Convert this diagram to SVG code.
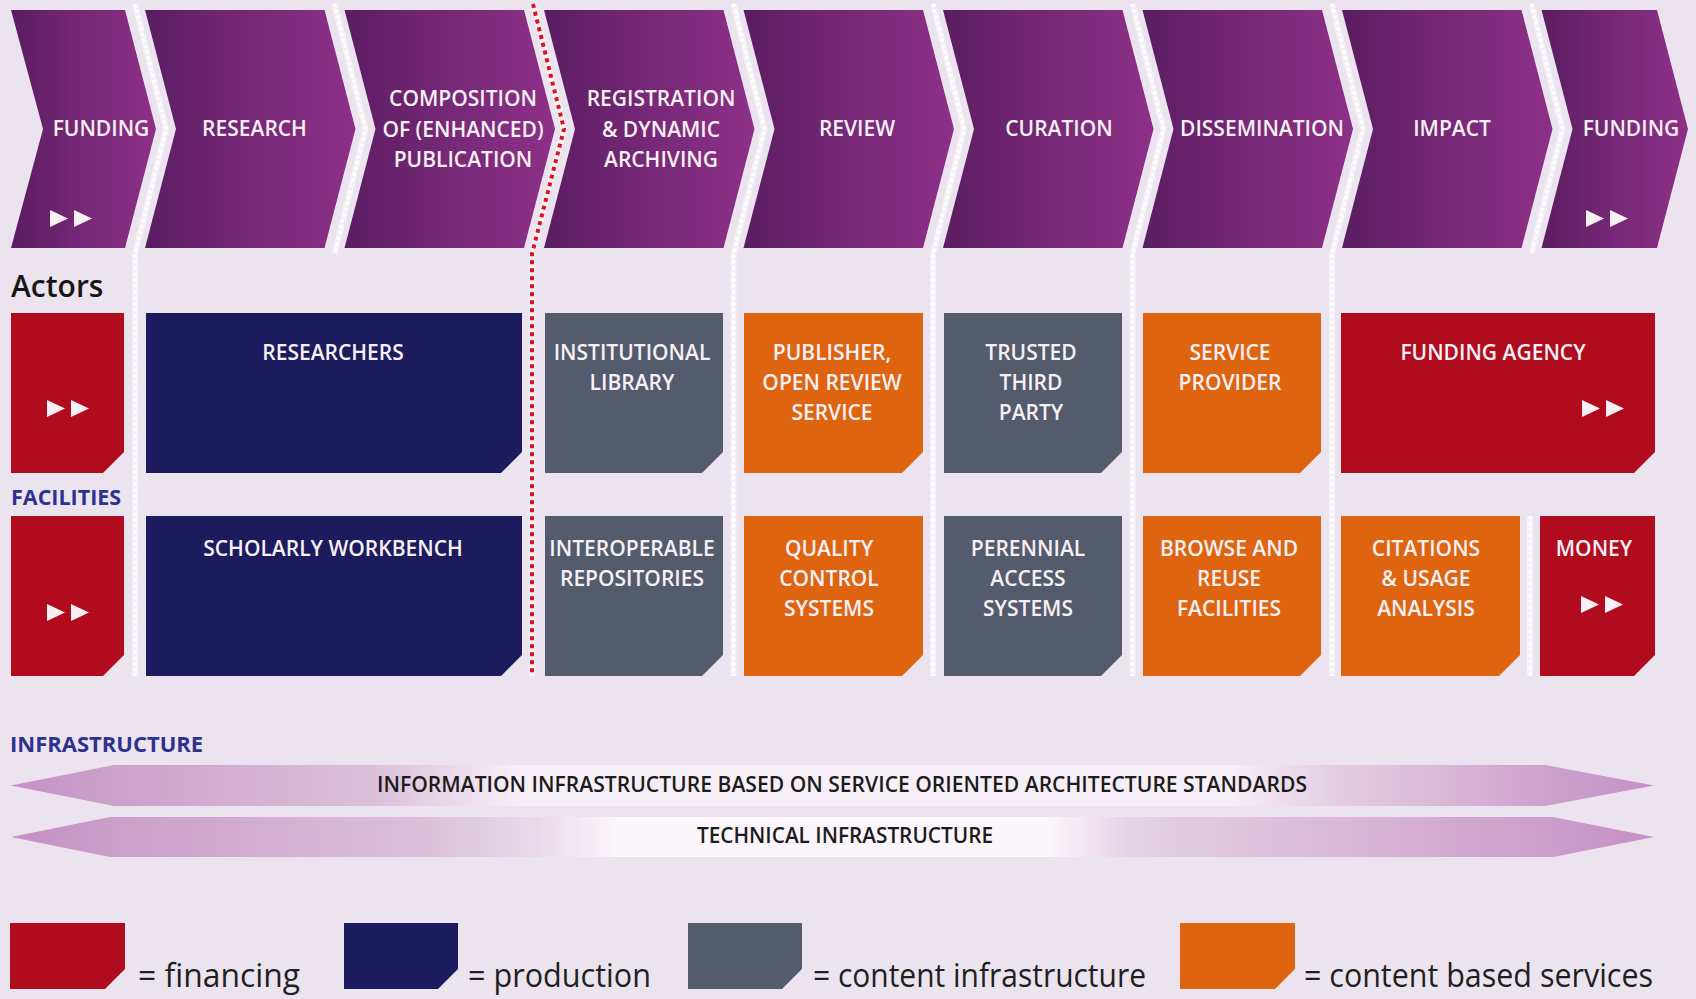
<svg xmlns="http://www.w3.org/2000/svg" xmlns:xlink="http://www.w3.org/1999/xlink" width="1696" height="999" viewBox="0 0 1696 999">
<defs>
<linearGradient id="gChev" x1="0" y1="0" x2="1" y2="0">
<stop offset="0" stop-color="#5a1d62"/>
<stop offset="0.5" stop-color="#772877"/>
<stop offset="1" stop-color="#8d3087"/>
</linearGradient>
<linearGradient id="gBand1" x1="0" y1="0" x2="1" y2="0">
<stop offset="0" stop-color="#c692c4"/>
<stop offset="0.07" stop-color="#cca2cb"/>
<stop offset="0.22" stop-color="#dbbfda"/>
<stop offset="0.31" stop-color="#f7eff7"/>
<stop offset="0.74" stop-color="#f7eff7"/>
<stop offset="0.8" stop-color="#e6d0e5"/>
<stop offset="0.94" stop-color="#cc9fcb"/>
<stop offset="1" stop-color="#c692c4"/>
</linearGradient>
<linearGradient id="gBand2" x1="0" y1="0" x2="1" y2="0">
<stop offset="0" stop-color="#c690c4"/>
<stop offset="0.07" stop-color="#cba0ca"/>
<stop offset="0.25" stop-color="#dbbfdb"/>
<stop offset="0.32" stop-color="#e9dae9"/>
<stop offset="0.37" stop-color="#fbf6fb"/>
<stop offset="0.63" stop-color="#fbf6fb"/>
<stop offset="0.68" stop-color="#e6d2e6"/>
<stop offset="0.9" stop-color="#cfa5ce"/>
<stop offset="1" stop-color="#c690c4"/>
</linearGradient>
<path id="ff" d="M0,0 L18,8.5 L0,17 Z M24,0 L42,8.5 L24,17 Z" fill="#f7f0f5"/>
<style>
.chev{fill:url(#gChev);}
.t{font-family:"Open Sans","Liberation Sans",sans-serif;font-weight:600;font-size:21px;fill:#f6eff4;text-anchor:middle;}
.red{fill:#b00c1d;}
.navy{fill:#1b1b5d;}
.gray{fill:#535b6d;}
.orange{fill:#df640f;}
.sepbg{fill:none;stroke:#f5f1f6;stroke-width:6;}
.sepdot{fill:none;stroke:#ffffff;stroke-width:3;stroke-dasharray:3 3;}
.reddot{fill:none;stroke:#d8141e;stroke-width:4;stroke-dasharray:4 4;}
.lbl{font-family:"Open Sans","Liberation Sans",sans-serif;font-weight:700;font-size:21.5px;fill:#2d3190;}
.band{font-family:"Open Sans","Liberation Sans",sans-serif;font-weight:600;font-size:21px;fill:#1c1c1c;}
.leg{font-family:"Open Sans","Liberation Sans",sans-serif;font-weight:400;font-size:33px;fill:#1f1f1f;}
</style>
</defs>
<rect x="0" y="0" width="1696" height="999" fill="#ebe4ee"/>

<g id="connectors">
<path class="sepbg" d="M135,4 L166,129 L135,254 V676"/>
<path class="sepdot" d="M135,4 L166,129 L135,254 V676"/>
<path class="sepbg" d="M334.5,4 L365.5,129 L334.5,254"/>
<path class="sepdot" d="M334.5,4 L365.5,129 L334.5,254"/>
<path class="sepbg" d="M733.5,4 L764.5,129 L733.5,254 V676"/>
<path class="sepdot" d="M733.5,4 L764.5,129 L733.5,254 V676"/>
<path class="sepbg" d="M933,4 L964,129 L933,254 V676"/>
<path class="sepdot" d="M933,4 L964,129 L933,254 V676"/>
<path class="sepbg" d="M1132.5,4 L1163.5,129 L1132.5,254 V676"/>
<path class="sepdot" d="M1132.5,4 L1163.5,129 L1132.5,254 V676"/>
<path class="sepbg" d="M1332,4 L1363,129 L1332,254 V676"/>
<path class="sepdot" d="M1332,4 L1363,129 L1332,254 V676"/>
<path class="sepbg" d="M1531.5,4 L1562.5,129 L1531.5,254"/>
<path class="sepdot" d="M1531.5,4 L1562.5,129 L1531.5,254"/>
<path class="sepbg" d="M1530,516 V676"/>
<path class="sepdot" d="M1530,516 V676"/>
<path class="sepbg" d="M533,4 L564,129 L532,254 V676"/>
<path class="reddot" d="M533,4 L564,129 L532,254 V676"/>
</g>

<g id="stage-funding-1">
<polygon class="chev" points="11,10 125,10 156,129 125,248 11,248 43,129"/>
<text class="t" x="101" y="136">FUNDING</text>
<use href="#ff" x="50" y="210"/>
</g>
<g id="stage-research">
<polygon class="chev" points="145,10 324.5,10 355.5,129 324.5,248 145,248 176,129"/>
<text class="t" x="254.5" y="136">RESEARCH</text>
</g>
<g id="stage-composition">
<polygon class="chev" points="344.5,10 524,10 555,129 524,248 344.5,248 375.5,129"/>
<text class="t" x="463" y="106">COMPOSITION</text>
<text class="t" x="463" y="137">OF (ENHANCED)</text>
<text class="t" x="463" y="167">PUBLICATION</text>
</g>
<g id="stage-registration">
<polygon class="chev" points="544,10 723.5,10 754.5,129 723.5,248 544,248 575,129"/>
<text class="t" x="661" y="106">REGISTRATION</text>
<text class="t" x="661" y="137">&amp; DYNAMIC</text>
<text class="t" x="661" y="167">ARCHIVING</text>
</g>
<g id="stage-review">
<polygon class="chev" points="743.5,10 923,10 954,129 923,248 743.5,248 774.5,129"/>
<text class="t" x="857" y="136">REVIEW</text>
</g>
<g id="stage-curation">
<polygon class="chev" points="943,10 1122.5,10 1153.5,129 1122.5,248 943,248 974,129"/>
<text class="t" x="1059" y="136">CURATION</text>
</g>
<g id="stage-dissemination">
<polygon class="chev" points="1142.5,10 1322,10 1353,129 1322,248 1142.5,248 1173.5,129"/>
<text class="t" x="1262" y="136">DISSEMINATION</text>
</g>
<g id="stage-impact">
<polygon class="chev" points="1342,10 1521.5,10 1552.5,129 1521.5,248 1342,248 1373,129"/>
<text class="t" x="1452" y="136">IMPACT</text>
</g>
<g id="stage-funding-2">
<polygon class="chev" points="1541.5,10 1657,10 1688,129 1657,248 1541.5,248 1572.5,129"/>
<text class="t" x="1631" y="136">FUNDING</text>
<use href="#ff" x="1586" y="210"/>
</g>

<g id="labels">
<text x="11" y="297" style="font-family:'Open Sans','Liberation Sans',sans-serif;font-weight:600;font-size:30px;fill:#161616">Actors</text>
<text class="lbl" x="11" y="505">FACILITIES</text>
<text class="lbl" x="10" y="752" style="font-size:22px">INFRASTRUCTURE</text>
</g>

<g id="actor-funding">
<path class="red" d="M11,313 H124 V452 L103,473 H11 Z"/>
<use href="#ff" x="47" y="400"/>
</g>
<g id="actor-researchers">
<path class="navy" d="M146,313 H522 V452 L501,473 H146 Z"/>
<text class="t" x="333" y="360">RESEARCHERS</text>
</g>
<g id="actor-library">
<path class="gray" d="M545,313 H723 V452 L702,473 H545 Z"/>
<text class="t" x="632" y="360">INSTITUTIONAL</text>
<text class="t" x="632" y="390">LIBRARY</text>
</g>
<g id="actor-publisher">
<path class="orange" d="M744,313 H923 V452 L902,473 H744 Z"/>
<text class="t" x="832" y="360">PUBLISHER,</text>
<text class="t" x="832" y="390">OPEN REVIEW</text>
<text class="t" x="832" y="420">SERVICE</text>
</g>
<g id="actor-ttp">
<path class="gray" d="M944,313 H1122 V452 L1101,473 H944 Z"/>
<text class="t" x="1031" y="360">TRUSTED</text>
<text class="t" x="1031" y="390">THIRD</text>
<text class="t" x="1031" y="420">PARTY</text>
</g>
<g id="actor-service-provider">
<path class="orange" d="M1143,313 H1321 V452 L1300,473 H1143 Z"/>
<text class="t" x="1230" y="360">SERVICE</text>
<text class="t" x="1230" y="390">PROVIDER</text>
</g>
<g id="actor-funding-agency">
<path class="red" d="M1341,313 H1655 V452 L1634,473 H1341 Z"/>
<text class="t" x="1493" y="360">FUNDING AGENCY</text>
<use href="#ff" x="1582" y="400"/>
</g>

<g id="facility-funding">
<path class="red" d="M11,516 H124 V655 L103,676 H11 Z"/>
<use href="#ff" x="47" y="604"/>
</g>
<g id="facility-workbench">
<path class="navy" d="M146,516 H522 V655 L501,676 H146 Z"/>
<text class="t" x="333" y="556">SCHOLARLY WORKBENCH</text>
</g>
<g id="facility-repositories">
<path class="gray" d="M545,516 H723 V655 L702,676 H545 Z"/>
<text class="t" x="632" y="556">INTEROPERABLE</text>
<text class="t" x="632" y="586">REPOSITORIES</text>
</g>
<g id="facility-quality">
<path class="orange" d="M744,516 H923 V655 L902,676 H744 Z"/>
<text class="t" x="829" y="556">QUALITY</text>
<text class="t" x="829" y="586">CONTROL</text>
<text class="t" x="829" y="616">SYSTEMS</text>
</g>
<g id="facility-perennial">
<path class="gray" d="M944,516 H1122 V655 L1101,676 H944 Z"/>
<text class="t" x="1028" y="556">PERENNIAL</text>
<text class="t" x="1028" y="586">ACCESS</text>
<text class="t" x="1028" y="616">SYSTEMS</text>
</g>
<g id="facility-browse">
<path class="orange" d="M1143,516 H1321 V655 L1300,676 H1143 Z"/>
<text class="t" x="1229" y="556">BROWSE AND</text>
<text class="t" x="1229" y="586">REUSE</text>
<text class="t" x="1229" y="616">FACILITIES</text>
</g>
<g id="facility-citations">
<path class="orange" d="M1341,516 H1520 V655 L1499,676 H1341 Z"/>
<text class="t" x="1426" y="556">CITATIONS</text>
<text class="t" x="1426" y="586">&amp; USAGE</text>
<text class="t" x="1426" y="616">ANALYSIS</text>
</g>
<g id="facility-money">
<path class="red" d="M1540,516 H1655 V655 L1634,676 H1540 Z"/>
<text class="t" x="1594" y="556">MONEY</text>
<use href="#ff" x="1581" y="596"/>
</g>

<g id="infra-information">
<polygon points="11,785.5 114,765 1545,765 1654,785.5 1545,806 114,806" fill="url(#gBand1)"/>
<text class="band" x="377" y="792" textLength="930" lengthAdjust="spacingAndGlyphs">INFORMATION INFRASTRUCTURE BASED ON SERVICE ORIENTED ARCHITECTURE STANDARDS</text>
</g>
<g id="infra-technical">
<polygon points="11,837 110,817 1553,817 1654,837 1553,857 110,857" fill="url(#gBand2)"/>
<text class="band" x="697" y="843" textLength="296" lengthAdjust="spacingAndGlyphs">TECHNICAL INFRASTRUCTURE</text>
</g>

<g id="legend">
<path class="red" d="M10,923 H125 V969 L105,989 H10 Z"/>
<text class="leg" x="138" y="987" textLength="162" lengthAdjust="spacingAndGlyphs">= financing</text>
<path class="navy" d="M344,923 H458 V969 L438,989 H344 Z"/>
<text class="leg" x="468" y="987" textLength="183" lengthAdjust="spacingAndGlyphs">= production</text>
<path class="gray" d="M688,923 H802 V969 L782,989 H688 Z"/>
<text class="leg" x="813" y="987" textLength="333" lengthAdjust="spacingAndGlyphs">= content infrastructure</text>
<path class="orange" d="M1180,923 H1295 V969 L1275,989 H1180 Z"/>
<text class="leg" x="1304" y="987" textLength="349" lengthAdjust="spacingAndGlyphs">= content based services</text>
</g>
</svg>
